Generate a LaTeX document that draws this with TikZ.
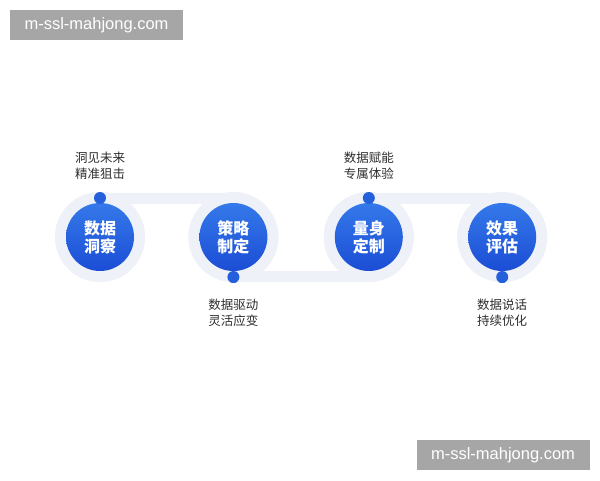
\documentclass[tikz,border=0pt]{standalone}
\usepackage{fontspec}
\setmainfont{Liberation Sans}
\newfontfamily\cjk{Noto Sans CJK SC}
\usetikzlibrary{positioning}

\definecolor{ringgray}{HTML}{EEF1F8}
\definecolor{stepblue}{HTML}{2460DC}
\definecolor{stepblueL}{HTML}{3579EA}
\definecolor{stepblueD}{HTML}{1B4DD5}
\definecolor{markgray}{HTML}{A6A6A6}
\definecolor{captext}{HTML}{2E2E2E}

\begin{document}
\begin{tikzpicture}[x=1pt,y=1pt]
    \tikzstyle{ring}=[circle, fill=ringgray, minimum size=90pt, inner sep=0pt]
    \tikzstyle{core}=[circle, minimum size=68pt, inner sep=0pt, top color=stepblueL, bottom color=stepblueD, text=white, align=center, font=\cjk\bfseries\fontsize{16}{18}\selectfont]
    \tikzstyle{dot}=[circle, fill=stepblue, minimum size=12pt, inner sep=0pt]
    \tikzstyle{band}=[draw=ringgray, line width=11pt]
    \tikzstyle{caption}=[align=center, text=captext, inner sep=0pt, font=\cjk\fontsize{12.5}{16}\selectfont]
    \tikzstyle{watermark}=[fill=markgray, text=white, minimum width=173pt, minimum height=30pt, font=\fontsize{16.5}{18}\selectfont]

    \useasboundingbox (0,0) rectangle (600,480);

      % outer rings
      \node[ring] (r1) at (100,243) {};
      \node[ring] (r2) [right=43pt of r1] {};
      \node[ring] (r3) [right=45pt of r2] {};
      \node[ring] (r4) [right=43pt of r3] {};

      % marker dots
      \node[dot] (d1) at ([yshift=39pt]r1.center) {};
      \node[dot] (d2) at ([yshift=-40pt]r2.center) {};
      \node[dot] (d3) at ([yshift=39pt]r3.center) {};
      \node[dot] (d4) at ([yshift=-40pt]r4.center) {};

      % bands between the rings
      \draw[band] ([yshift=-0.5pt]d1.center) -- ([yshift=-0.5pt]d1.center -| r2);
      \draw[band] ([yshift=0.5pt]d2.center) -- ([yshift=0.5pt]d2.center -| r3);
      \draw[band] ([yshift=-0.5pt]d3.center) -- ([yshift=-0.5pt]d3.center -| r4);

      % redraw rings and contents on top of the bands
      \foreach \i in {1,...,4} {\node[ring] at (r\i) {};}
      \node[core] (c1) at (r1) {数据\\洞察};
      \node[core] (c2) at (r2) {策略\\制定};
      \node[core] (c3) at (r3) {量身\\定制};
      \node[core] (c4) at (r4) {效果\\评估};
      \foreach \i in {1,...,4} {\node[dot] at (d\i) {};}

      % captions
      \node[caption] (t1) at ([yshift=71pt]r1.center) {洞见未来\\精准狙击};
      \node[caption] (t2) at ([yshift=-76pt]r2.center) {数据驱动\\灵活应变};
      \node[caption] (t3) at ([yshift=71pt]r3.center) {数据赋能\\专属体验};
      \node[caption] (t4) at ([yshift=-76pt]r4.center) {数据说话\\持续优化};

      % watermarks
      \node[watermark] (w1) at (96.5,455) {m-ssl-mahjong.com};
      \node[watermark] (w2) at (503,25) {m-ssl-mahjong.com};
    \end{tikzpicture}
\end{document}
